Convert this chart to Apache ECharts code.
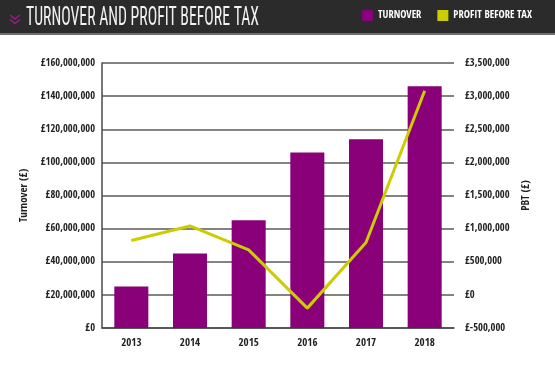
<!DOCTYPE html>
<html><head><meta charset="utf-8">
<script src="https://cdn.jsdelivr.net/npm/echarts@6/dist/echarts.min.js"></script>
<style>html,body{margin:0;padding:0;background:#fff;}#c{width:555px;height:366px;}</style>
</head><body><div id="c"></div>
<script>
const years = ['2013','2014','2015','2016','2017','2018'];
const turnover = [25000000, 45000000, 65000000, 106000000, 114000000, 146000000];
const pbt = [820000, 1040000, 680000, -200000, 790000, 3080000];
const titleText = 'TURNOVER AND PROFIT BEFORE TAX';
const seriesNames = ['TURNOVER', 'PROFIT BEFORE TAX'];
const leftName = 'Turnover (£)';
const rightName = 'PBT (£)';

const FONT = '"Open Sans Condensed", "Roboto Condensed", sans-serif';
const PURPLE = '#8a0079';
const YELLOW = '#cccc00';

function fmt(v){
  const s = Math.abs(v).toLocaleString('en-GB');
  return v < 0 ? '£-' + s : '£' + s;
}
const TITLE_FONT = '400 25px "Roboto Condensed", "DejaVu Sans Condensed", sans-serif';
const cv = document.createElement('canvas').getContext('2d');
cv.font = TITLE_FONT;
const tw = cv.measureText(titleText).width;
const sx = 233 / tw;

const chart = echarts.init(document.getElementById('c'), null, {renderer:'canvas'});
const axisLabelStyle = {fontFamily: FONT, fontWeight: 'bold', fontSize: 10.5, color: '#222'};
chart.setOption({
  animation: false,
  textStyle: {fontFamily: FONT},
  grid: {left: 102, right: 101, top: 63, bottom: 38, outerBoundsMode: 'none', containLabel: false},
  graphic: [
    {type:'rect', shape:{x:0,y:0,width:555,height:33}, style:{fill:'#2b2b2b'}, z:-1},
    {type:'rect', shape:{x:0,y:33,width:555,height:2}, style:{fill:'#6e6e6e'}, z:-1},
    {type:'polyline', shape:{points:[[10,15],[15,19],[20,15]]}, style:{stroke:'#a3178f', lineWidth:1.5, fill:null}},
    {type:'polyline', shape:{points:[[10,19.5],[15,23.5],[20,19.5]]}, style:{stroke:'#a3178f', lineWidth:1.5, fill:null}},
    {type:'text', x:26, y:19, scaleX: sx, style:{text:titleText, fill:'#f2f2f2', font:TITLE_FONT, verticalAlign:'middle', align:'left'}}
  ],
  legend: {
    left: 362, top: 10, padding: 0, width: 300, itemWidth: 11, itemHeight: 11, itemGap: 16, icon: 'rect',
    textStyle: {color:'#fff', fontWeight:'bold', fontSize: 10.5, fontFamily: FONT},
    data: seriesNames
  },
  xAxis: {
    type: 'category', data: years,
    axisLine: {lineStyle: {color:'#4a4a4a', width:1.5}},
    axisTick: {length: 8, lineStyle: {color:'#4a4a4a', width:1.5}},
    axisLabel: Object.assign({margin: 10}, axisLabelStyle, {fontSize: 11})
  },
  yAxis: [
    {
      type: 'value', min: 0, max: 160000000, interval: 20000000,
      name: leftName, nameLocation: 'middle', nameGap: 69, nameRotate: 90,
      nameTextStyle: {fontFamily: FONT, fontSize: 11, color:'#222', fontWeight:'bold'},
      axisLine: {show: true, lineStyle: {color:'#4a4a4a', width:1.5}},
      axisTick: {show: false},
      splitLine: {show: true, lineStyle: {color:'#5a5a5a', width:1.5}},
      axisLabel: Object.assign({margin: 7, formatter: fmt}, axisLabelStyle)
    },
    {
      type: 'value', min: -500000, max: 3500000, interval: 500000, position: 'right',
      name: rightName, nameLocation: 'middle', nameGap: 66, nameRotate: 90,
      nameTextStyle: {fontFamily: FONT, fontSize: 11, color:'#222', fontWeight:'bold'},
      axisLine: {show: false}, axisTick: {show: false}, splitLine: {show: false},
      axisLabel: Object.assign({margin: 11, formatter: fmt}, axisLabelStyle)
    }
  ],
  series: [
    {name: seriesNames[0], type:'bar', data: turnover, yAxisIndex: 0, barCategoryGap: '42%',
     itemStyle: {color: PURPLE}, z: 2},
    {name: seriesNames[1], type:'line', data: pbt, yAxisIndex: 1, showSymbol: false, symbol:'none',
     lineStyle: {color: YELLOW, width: 3}, itemStyle: {color: YELLOW}, z: 3}
  ]
});
</script></body></html>
